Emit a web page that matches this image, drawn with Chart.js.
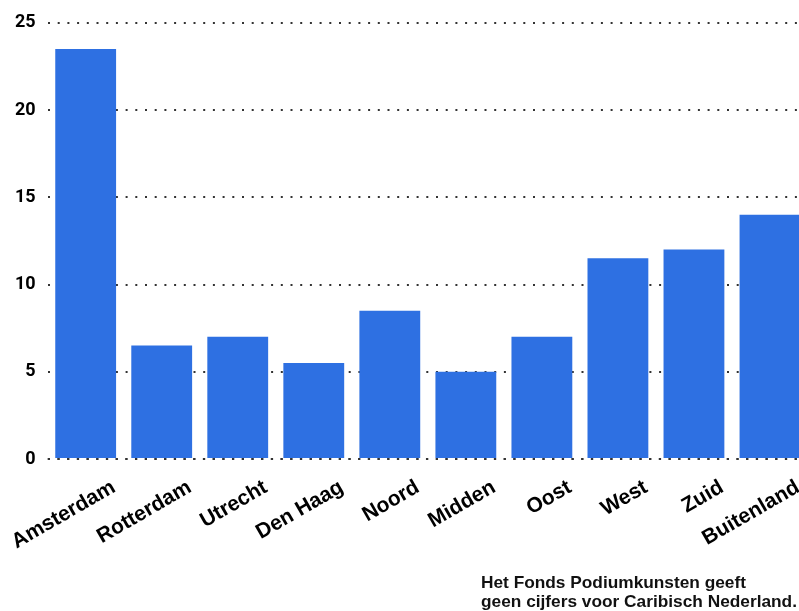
<!DOCTYPE html>
<html>
<head>
<meta charset="utf-8">
<script src="https://cdn.jsdelivr.net/npm/chart.js@4"></script>
<style>
  html, body { margin: 0; padding: 0; background: #fff; overflow: hidden; }
  #wrap { position: absolute; left: 0; top: 0; width: 808px; height: 611px; }
  #note {
    position: absolute; left: 481px; top: 573px;
    font-family: "Liberation Sans", Arial, sans-serif; font-weight: bold;
    font-size: 17.3px; line-height: 19px; color: #111;
  }
</style>
</head>
<body>
<div id="wrap"><canvas id="chart"></canvas></div>
<div id="note">Het Fonds Podiumkunsten geeft<br>geen cijfers voor Caribisch Nederland.</div>
<script>
// regio's
const regions = ['Amsterdam', 'Rotterdam', 'Utrecht', 'Den Haag', 'Noord', 'Midden', 'Oost', 'West', 'Zuid', 'Buitenland']
// waarden
const values = [23.5, 6.5, 7, 5.5, 8.5, 5, 7, 11.5, 12, 14]
const yTicks = [0, 5, 10, 15, 20, 25]

const barColor = 'rgb(46, 112, 226)'
const dotColor = '#333'
const dots = [2, 7.7]

// dotted baseline at 0, drawn over the bars
const baseline = {
    id: 'baseline',
    afterDatasetsDraw(chart) {
        const {ctx, chartArea, scales} = chart
        const y = scales.y.getPixelForValue(0)
        ctx.save()
        ctx.strokeStyle = dotColor
        ctx.lineWidth = 2
        ctx.setLineDash(dots)
        ctx.beginPath()
        ctx.moveTo(chartArea.left, y)
        ctx.lineTo(chartArea.right, y)
        ctx.stroke()
        ctx.restore()
    }
}

const data = {
    labels: regions,
    datasets: [{
        data: values,
        backgroundColor: barColor,
        borderWidth: 0,
        barPercentage: 0.8,
        categoryPercentage: 1.0
    }]
}

const config = {
    type: 'bar',
    data,
    plugins: [baseline],
    options: {
        responsive: true,
        maintainAspectRatio: false,
        animation: false,
        layout: { padding: { left: 3, top: 13, right: 0, bottom: 0 } },
        plugins: {
            legend: { display: false },
            tooltip: { enabled: false }
        },
        scales: {
            x: {
                // keep the rotated labels from pushing the plot area inwards
                afterFit: (axis) => {
                    axis.paddingLeft = 0
                    axis.paddingRight = 0
                    axis.height = 152
                },
                grid: { display: false },
                border: { display: false },
                ticks: {
                    minRotation: 30,
                    maxRotation: 30,
                    labelOffset: 28,
                    padding: 8,
                    color: '#000',
                    font: { family: '"Liberation Sans", Arial, sans-serif', weight: 'bold', size: 21 }
                }
            },
            y: {
                min: 0,
                max: 25,
                afterBuildTicks: (axis) => { axis.ticks = yTicks.map(v => ({ value: v })) },
                grid: { color: dotColor, lineWidth: 2, drawTicks: false },
                border: { display: false, dash: dots },
                ticks: {
                    padding: 12,
                    color: '#000',
                    font: { family: 'Roboto, sans-serif', weight: 'bold', size: 18 }
                }
            }
        }
    }
}

const chart = new Chart(document.getElementById('chart'), config)
</script>
</body>
</html>
